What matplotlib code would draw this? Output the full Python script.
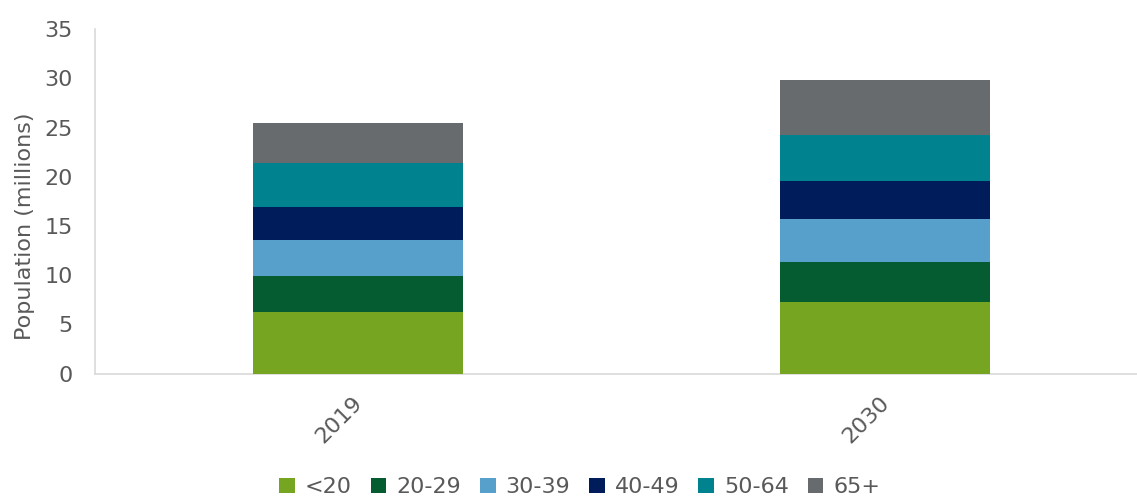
import numpy as np
import matplotlib.pyplot as plt
import matplotlib.transforms as mtransforms

# данные
years = ['2019', '2030']
groups = ['<20', '20-29', '30-39', '40-49', '50-64', '65+']
under20 = [6.3, 7.3]
age20_29 = [3.6, 4.0]
age30_39 = [3.65, 4.4]
age40_49 = [3.4, 3.85]
age50_64 = [4.5, 4.75]
age65 = [4.0, 5.5]

colors = ['#76a522', '#055c30', '#57a0cb', '#001c5b', '#00838f', '#676b6e']
text_color = '#595959'

plt.rcParams['font.family'] = ['DejaVu Sans']

fig = plt.figure(figsize=(11.37, 4.97), dpi=100)
ax = fig.add_axes([95 / 1137, (497 - 373.5) / 497, 1 - 95 / 1137, (373.5 - 29.3) / 497])

x = np.arange(len(years))
bottom = np.zeros(len(years))
for vals, lab, c in zip([under20, age20_29, age30_39, age40_49, age50_64, age65], groups, colors):
    ax.bar(x, vals, width=0.40, bottom=bottom, color=c, label=lab, zorder=3)
    bottom += np.array(vals)

ax.set_xlim(-0.499, 1.478)
ax.set_ylim(0, 35)
ax.set_yticks(np.arange(0, 36, 5))
ax.set_xticks(x)
ax.set_xticklabels([])

# подписи по оси x повернуты на 45 градусов
trans = ax.get_xaxis_transform() + mtransforms.ScaledTranslation(-6 / 100, -19 / 100, fig.dpi_scale_trans)
for xi, yr in zip(x, years):
    ax.text(xi, 0, yr, transform=trans, rotation=45, ha='right', va='top',
            rotation_mode='anchor', fontsize=16, color=text_color)

for s in ['top', 'right']:
    ax.spines[s].set_visible(False)
for s in ['left', 'bottom']:
    ax.spines[s].set_color('#d9d9d9')
    ax.spines[s].set_linewidth(1.2)
ax.tick_params(length=0, labelsize=16, colors=text_color)
ax.tick_params(axis='y', pad=16)
ax.set_ylabel('Population (millions)', fontsize=16, color=text_color)
ax.yaxis.set_label_coords(-0.058, 0.427)

ax.legend(loc='center', bbox_to_anchor=(0.5 - 95 / 1137 / 2 + 0.007, -0.33), ncol=6, frameon=False,
          fontsize=16, labelcolor=text_color, handlelength=0.7, handleheight=0.7,
          handletextpad=0.45, columnspacing=0.85)

plt.savefig('out.png', dpi=100)
